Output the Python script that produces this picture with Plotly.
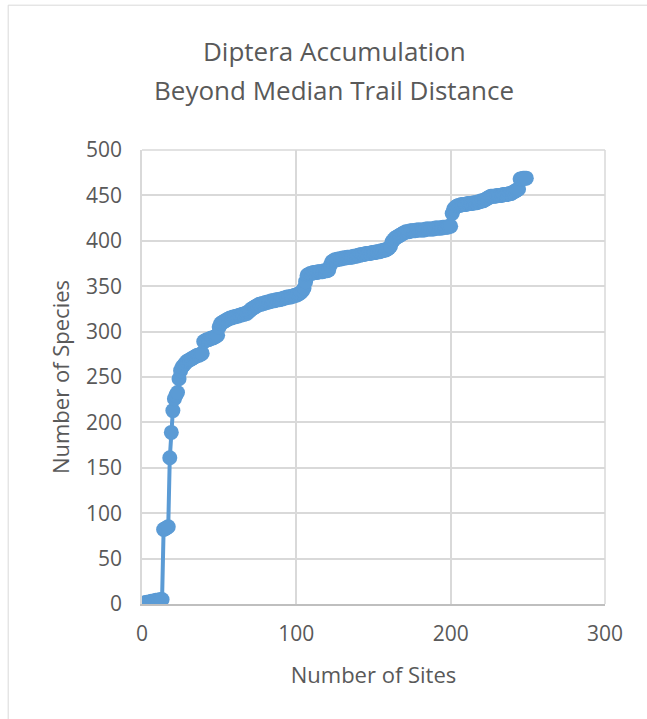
import plotly.graph_objects as go

sites = list(range(1, 250))
species = [
    1, 1, 2, 2, 2, 3, 3, 3, 4, 4, 4, 5, 5, 82, 83, 84, 85, 161, 189, 213,
    226, 230, 233, 248, 257, 261, 263, 265, 267, 268, 269, 270, 271, 272, 273, 274, 274, 275, 276, 289,
    290, 291, 291, 292, 293, 293, 294, 295, 296, 305, 309, 310, 311, 312, 313, 314, 315, 315, 316, 316,
    317, 317, 318, 318, 319, 319, 320, 320, 322, 323, 325, 326, 327, 328, 329, 330, 330, 331, 331, 332,
    332, 333, 333, 334, 334, 334, 335, 335, 335, 336, 336, 337, 337, 338, 338, 338, 339, 339, 340, 340,
    341, 342, 343, 345, 348, 355, 362, 363, 364, 364, 365, 365, 365, 366, 366, 366, 366, 367, 367, 367,
    368, 373, 377, 378, 379, 379, 380, 380, 380, 381, 381, 381, 382, 382, 382, 382, 383, 383, 383, 384,
    384, 385, 385, 385, 386, 386, 386, 386, 387, 387, 387, 388, 388, 388, 389, 389, 390, 390, 391, 392,
    394, 399, 401, 403, 404, 405, 406, 407, 408, 409, 410, 410, 410, 411, 411, 411, 411, 412, 412, 412,
    412, 412, 412, 413, 413, 413, 413, 413, 413, 414, 414, 414, 414, 414, 415, 415, 415, 415, 416, 416,
    430, 435, 437, 438, 439, 439, 440, 440, 440, 440, 441, 441, 441, 441, 442, 442, 442, 443, 443, 444,
    444, 445, 446, 447, 448, 449, 449, 449, 449, 450, 450, 450, 450, 451, 451, 451, 451, 452, 452, 453,
    454, 455, 456, 457, 468, 468, 469, 469, 469,
]

title_lines = ["Diptera Accumulation", "Beyond Median Trail Distance"]
x_title = "Number of Sites"
y_title = "Number of Species"

BLUE = "#5b9bd5"
TXT = "#595959"
GRID = "#d9d9d9"
FONT = "Open Sans"

fig = go.Figure()
fig.add_trace(go.Scatter(
    x=sites, y=species, mode="lines+markers",
    line=dict(color=BLUE, width=4),
    marker=dict(color=BLUE, size=15, line=dict(width=0)),
    showlegend=False, hoverinfo="skip",
))

fig.update_layout(
    width=647, height=719,
    margin=dict(l=142, r=42, t=150, b=115),
    paper_bgcolor="white", plot_bgcolor="white",
    font=dict(family=FONT, color=TXT, size=21),
    xaxis=dict(
        range=[0, 300], tickvals=[0, 100, 200, 300], showgrid=True, gridcolor=GRID, gridwidth=1.5,
        zeroline=False, showline=True, linecolor="#bfbfbf", linewidth=1.5, mirror=False,
        ticks="", ticklabelstandoff=10, tickfont=dict(size=21, color=TXT),
        title=dict(text=x_title, font=dict(size=22, color=TXT), standoff=22),
        fixedrange=True,
    ),
    yaxis=dict(
        range=[0, 500], tickvals=[0, 50, 100, 150, 200, 250, 300, 350, 400, 450, 500],
        showgrid=True, gridcolor=GRID, gridwidth=1.5,
        zeroline=False, showline=True, linecolor=GRID, linewidth=1.5,
        ticks="", ticklabelstandoff=14, tickfont=dict(size=21, color=TXT),
        title=dict(text=y_title, font=dict(size=22, color=TXT), standoff=10),
        fixedrange=True,
    ),
    shapes=[
        dict(type="rect", xref="paper", yref="paper", x0=-0.289, x1=1.3, y0=-0.5, y1=1.319,
             line=dict(color=GRID, width=1), fillcolor="rgba(0,0,0,0)", layer="below"),
        dict(type="line", xref="paper", yref="paper", x0=1, x1=1, y0=0, y1=1,
             line=dict(color=GRID, width=1.5)),
        dict(type="line", xref="paper", yref="paper", x0=0, x1=1, y0=1, y1=1,
             line=dict(color=GRID, width=1.5)),
    ],
    annotations=[
        dict(text=title_lines[0], xref="paper", yref="paper", x=(334 - 142) / 463,
             y=(604 - 51) / 454, xanchor="center", yanchor="middle", showarrow=False,
             font=dict(size=26, color=TXT, family=FONT)),
        dict(text=title_lines[1], xref="paper", yref="paper", x=(334 - 142) / 463,
             y=(604 - 90) / 454, xanchor="center", yanchor="middle", showarrow=False,
             font=dict(size=26, color=TXT, family=FONT)),
    ],
)

fig.write_html("out.html")
